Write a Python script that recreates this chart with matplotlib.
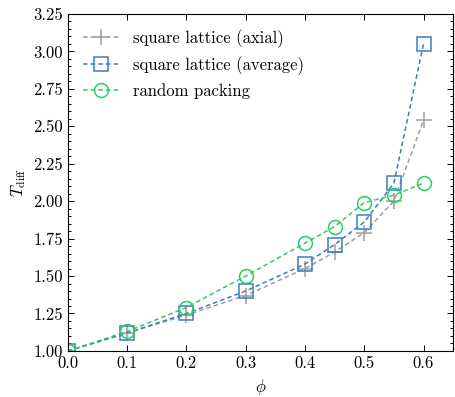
import matplotlib
matplotlib.use("Agg")
import matplotlib.pyplot as plt
from matplotlib.ticker import MultipleLocator, FormatStrFormatter

plt.rcParams["font.family"] = ["cmr10", "DejaVu Serif"]
plt.rcParams["mathtext.fontset"] = "cm"
plt.rcParams["axes.formatter.use_mathtext"] = True
plt.rcParams["font.size"] = 12

phi = [0.0, 0.1, 0.2, 0.3, 0.4, 0.45, 0.5, 0.55, 0.6]
t_axial = [1.00, 1.12, 1.24, 1.37, 1.55, 1.66, 1.79, 2.00, 2.54]
t_average = [1.00, 1.12, 1.25, 1.40, 1.58, 1.71, 1.86, 2.12, 3.05]
t_random = [1.00, 1.13, 1.29, 1.50, 1.72, 1.83, 1.99, 2.04, 2.12]

labels = ["square lattice (axial)", "square lattice (average)", "random packing"]
colors = ["#9e9e9e", "#3b7dc4", "#2fcc66"]

fig = plt.figure(figsize=(4.55, 3.97), dpi=100)
ax = fig.add_axes([0.149, 0.116, 0.847, 0.849])

common = dict(ls="--", dashes=(3, 2), lw=1.1, mew=1.1)
ax.plot(phi, t_axial, color=colors[0], marker="+", ms=11,
        label=labels[0], **common)
ax.plot(phi, t_average, color=colors[1], marker="s", ms=10,
        mfc="none", label=labels[1], **common)
ax.plot(phi, t_random, color=colors[2], marker="o", ms=10,
        mfc="none", label=labels[2], **common)

ax.set_xlim(0, 0.65)
ax.set_ylim(1.0, 3.25)
ax.xaxis.set_major_locator(MultipleLocator(0.1))
ax.yaxis.set_major_locator(MultipleLocator(0.25))
ax.yaxis.set_minor_locator(MultipleLocator(0.05))
ax.xaxis.set_major_formatter(FormatStrFormatter("%.1f"))
ax.yaxis.set_major_formatter(FormatStrFormatter("%.2f"))
ax.tick_params(which="both", direction="in", top=True, right=True)
ax.tick_params(which="major", length=4, width=0.7)
ax.tick_params(which="minor", length=2.5, width=0.7)
for s in ax.spines.values():
    s.set_linewidth(0.8)

ax.set_xlabel(r"$\phi$")
ax.set_ylabel(r"$T_{\mathrm{diff}}$")
ax.legend(loc="upper left", frameon=False, handlelength=2.2)

fig.savefig("out.png", dpi=100)
